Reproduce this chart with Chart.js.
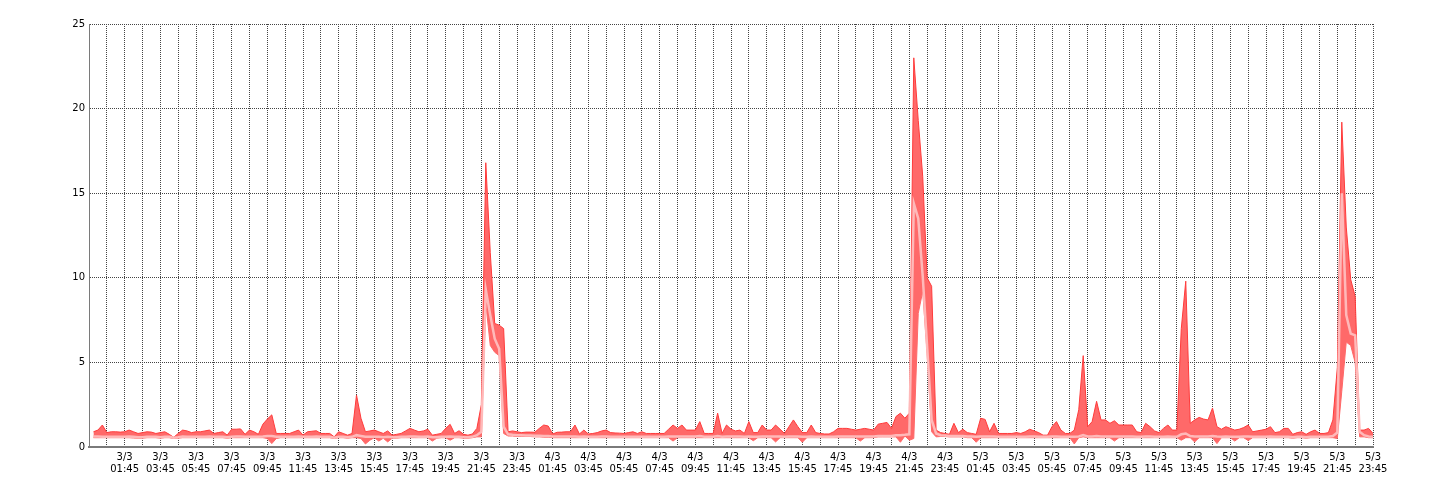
<!DOCTYPE html>
<html>
<head>
  <title>Load chart</title>
  <script src="https://cdn.jsdelivr.net/npm/chart.js"></script>
  <style>
    html, body {
      margin: 0;
      padding: 0;
      background: #ffffff;
    }
    #wrap {
      width: 1440px;
      height: 500px;
      position: relative;
    }
  </style>
</head>
<body>
  <div id="wrap">
    <canvas id="chartCanvas"></canvas>
  </div>

  <script>
    // samples every 15 minutes, hours counted from 3/3 00:00
    const sampleHours = Array.from({ length: 288 }, (_, i) => i / 4);

    const tickLabels = [
      ['3/3', '01:45'], ['3/3', '03:45'], ['3/3', '05:45'], ['3/3', '07:45'], ['3/3', '09:45'], ['3/3', '11:45'],
      ['3/3', '13:45'], ['3/3', '15:45'], ['3/3', '17:45'], ['3/3', '19:45'], ['3/3', '21:45'], ['3/3', '23:45'],
      ['4/3', '01:45'], ['4/3', '03:45'], ['4/3', '05:45'], ['4/3', '07:45'], ['4/3', '09:45'], ['4/3', '11:45'],
      ['4/3', '13:45'], ['4/3', '15:45'], ['4/3', '17:45'], ['4/3', '19:45'], ['4/3', '21:45'], ['4/3', '23:45'],
      ['5/3', '01:45'], ['5/3', '03:45'], ['5/3', '05:45'], ['5/3', '07:45'], ['5/3', '09:45'], ['5/3', '11:45'],
      ['5/3', '13:45'], ['5/3', '15:45'], ['5/3', '17:45'], ['5/3', '19:45'], ['5/3', '21:45'], ['5/3', '23:45']
    ];

    const maxValues = [
      0.9, 1.0, 1.3, 0.85, 0.9, 0.9, 0.88, 0.9, 1.0, 0.9, 0.8, 0.85, 0.9, 0.88, 0.8, 0.85,
      0.9, 0.75, 0.57, 0.8, 1.0, 0.95, 0.85, 0.9, 0.9, 0.95, 1.0, 0.8, 0.85, 0.9, 0.7, 1.05,
      1.05, 1.07, 0.75, 1.0, 0.9, 0.75, 1.35, 1.65, 1.9, 0.8, 0.8, 0.8, 0.8, 0.9, 1.0, 0.7,
      0.9, 0.93, 0.96, 0.8, 0.8, 0.8, 0.6, 0.9, 0.8, 0.7, 0.8, 3.07, 1.7, 0.9, 0.95, 1.0,
      0.9, 0.8, 0.95, 0.7, 0.75, 0.8, 0.95, 1.1, 1.0, 0.9, 0.95, 1.05, 0.7, 0.75, 0.8, 1.1,
      1.34, 0.8, 0.96, 0.75, 0.7, 0.77, 1.1, 2.5, 16.8, 11.5, 7.3, 7.2, 7.0, 0.9, 0.95, 0.9,
      0.85, 0.88, 0.88, 0.87, 1.1, 1.3, 1.24, 0.77, 0.87, 0.88, 0.9, 0.9, 1.3, 0.77, 1.0, 0.77,
      0.8, 0.85, 0.95, 1.0, 0.85, 0.83, 0.82, 0.8, 0.85, 0.9, 0.8, 0.9, 0.8, 0.8, 0.8, 0.8,
      0.8, 1.05, 1.3, 1.1, 1.3, 1.0, 1.0, 1.0, 1.5, 0.8, 0.8, 0.8, 2.0, 0.8, 1.3, 1.05,
      0.95, 1.0, 0.8, 1.5, 0.85, 0.85, 1.3, 1.0, 1.0, 1.3, 1.05, 0.8, 1.2, 1.6, 1.2, 0.85,
      0.85, 1.3, 0.85, 0.8, 0.77, 0.77, 0.9, 1.1, 1.1, 1.1, 1.05, 1.0, 1.05, 1.1, 1.05, 1.0,
      1.35, 1.4, 1.45, 1.1, 1.8, 2.0, 1.7, 2.0, 23.0, 19.3, 16.0, 10.0, 9.5, 1.0, 0.85, 0.8,
      0.75, 1.4, 0.85, 1.05, 0.85, 0.8, 0.75, 1.7, 1.63, 0.9, 1.4, 0.8, 0.8, 0.8, 0.8, 0.85,
      0.8, 0.9, 1.05, 0.95, 0.85, 0.7, 0.7, 1.2, 1.5, 1.0, 0.8, 0.8, 1.0, 2.2, 5.4, 1.2,
      1.5, 2.7, 1.6, 1.6, 1.4, 1.55, 1.3, 1.3, 1.3, 1.3, 0.9, 0.85, 1.4, 1.2, 0.95, 0.85,
      1.1, 1.3, 1.0, 1.0, 7.0, 9.8, 1.4, 1.6, 1.75, 1.65, 1.6, 2.3, 1.2, 1.05, 1.2, 1.1,
      1.0, 1.05, 1.15, 1.3, 0.9, 0.95, 1.0, 1.05, 1.2, 0.85, 0.9, 1.1, 1.1, 0.75, 0.85, 0.9,
      0.75, 0.9, 1.0, 0.8, 0.8, 0.85, 1.6, 4.7, 19.2, 13.0, 9.9, 8.9, 1.0, 1.0, 1.1, 0.8
    ];

    const avgValues = [
      0.62, 0.62, 0.6, 0.6, 0.6, 0.6, 0.6, 0.6, 0.62, 0.6, 0.58, 0.58, 0.6, 0.6, 0.6, 0.58,
      0.6, 0.6, 0.55, 0.58, 0.62, 0.6, 0.6, 0.6, 0.6, 0.6, 0.62, 0.6, 0.6, 0.6, 0.58, 0.6,
      0.62, 0.62, 0.6, 0.6, 0.6, 0.6, 0.62, 0.65, 0.65, 0.6, 0.6, 0.6, 0.6, 0.6, 0.62, 0.6,
      0.6, 0.6, 0.62, 0.6, 0.6, 0.6, 0.55, 0.6, 0.6, 0.58, 0.6, 0.7, 0.65, 0.6, 0.6, 0.6,
      0.6, 0.58, 0.6, 0.58, 0.58, 0.6, 0.6, 0.62, 0.62, 0.6, 0.6, 0.62, 0.58, 0.58, 0.6, 0.6,
      0.62, 0.6, 0.6, 0.58, 0.58, 0.6, 0.7, 0.9, 9.3, 7.8, 6.4, 5.8, 1.2, 0.75, 0.72, 0.7,
      0.7, 0.68, 0.68, 0.66, 0.66, 0.65, 0.65, 0.62, 0.62, 0.62, 0.62, 0.62, 0.62, 0.6, 0.62, 0.6,
      0.6, 0.6, 0.62, 0.62, 0.6, 0.6, 0.6, 0.6, 0.6, 0.6, 0.6, 0.6, 0.6, 0.6, 0.6, 0.6,
      0.6, 0.62, 0.62, 0.62, 0.62, 0.62, 0.62, 0.62, 0.65, 0.6, 0.6, 0.6, 0.65, 0.6, 0.62, 0.62,
      0.62, 0.62, 0.6, 0.62, 0.6, 0.6, 0.62, 0.62, 0.62, 0.62, 0.62, 0.6, 0.62, 0.62, 0.62, 0.6,
      0.6, 0.62, 0.6, 0.6, 0.6, 0.6, 0.6, 0.62, 0.62, 0.62, 0.62, 0.62, 0.62, 0.62, 0.62, 0.62,
      0.65, 0.65, 0.65, 0.65, 0.7, 0.7, 0.72, 0.75, 14.4, 13.5, 10.1, 5.9, 1.6, 0.8, 0.7, 0.68,
      0.65, 0.65, 0.65, 0.65, 0.62, 0.62, 0.6, 0.62, 0.62, 0.62, 0.62, 0.6, 0.6, 0.6, 0.6, 0.6,
      0.6, 0.6, 0.62, 0.62, 0.6, 0.6, 0.6, 0.62, 0.62, 0.6, 0.6, 0.6, 0.6, 0.62, 0.7, 0.62,
      0.62, 0.65, 0.62, 0.62, 0.62, 0.62, 0.62, 0.62, 0.62, 0.62, 0.6, 0.6, 0.62, 0.62, 0.6, 0.6,
      0.6, 0.62, 0.6, 0.6, 0.75, 0.8, 0.65, 0.62, 0.62, 0.62, 0.62, 0.65, 0.62, 0.6, 0.62, 0.6,
      0.6, 0.6, 0.62, 0.62, 0.6, 0.6, 0.6, 0.6, 0.62, 0.6, 0.6, 0.6, 0.6, 0.58, 0.6, 0.6,
      0.58, 0.6, 0.6, 0.6, 0.6, 0.6, 0.65, 0.85, 15.0, 7.8, 6.7, 6.6, 0.9, 0.7, 0.62, 0.6
    ];

    const minValues = [
      0.55, 0.55, 0.55, 0.55, 0.55, 0.55, 0.55, 0.55, 0.55, 0.53, 0.52, 0.52, 0.55, 0.55, 0.55, 0.52,
      0.55, 0.55, 0.5, 0.52, 0.55, 0.55, 0.55, 0.55, 0.55, 0.55, 0.55, 0.55, 0.55, 0.55, 0.52, 0.55,
      0.55, 0.55, 0.55, 0.55, 0.55, 0.55, 0.55, 0.5, 0.2, 0.5, 0.55, 0.55, 0.55, 0.55, 0.55, 0.55,
      0.55, 0.55, 0.55, 0.55, 0.55, 0.55, 0.5, 0.55, 0.55, 0.52, 0.55, 0.55, 0.5, 0.18, 0.4, 0.55,
      0.35, 0.52, 0.3, 0.52, 0.52, 0.55, 0.55, 0.55, 0.55, 0.55, 0.55, 0.55, 0.35, 0.52, 0.55, 0.55,
      0.4, 0.55, 0.55, 0.52, 0.52, 0.55, 0.6, 0.6, 8.5, 6.0, 5.6, 5.4, 0.8, 0.65, 0.65, 0.62,
      0.62, 0.62, 0.62, 0.6, 0.6, 0.58, 0.58, 0.55, 0.55, 0.55, 0.55, 0.55, 0.55, 0.55, 0.55, 0.55,
      0.55, 0.55, 0.55, 0.55, 0.55, 0.55, 0.55, 0.55, 0.55, 0.55, 0.55, 0.55, 0.55, 0.55, 0.55, 0.55,
      0.55, 0.55, 0.35, 0.55, 0.55, 0.55, 0.55, 0.55, 0.55, 0.55, 0.55, 0.55, 0.55, 0.55, 0.55, 0.55,
      0.55, 0.55, 0.55, 0.55, 0.37, 0.55, 0.55, 0.55, 0.55, 0.3, 0.55, 0.55, 0.55, 0.55, 0.55, 0.28,
      0.55, 0.55, 0.55, 0.55, 0.55, 0.55, 0.55, 0.55, 0.55, 0.55, 0.55, 0.55, 0.35, 0.55, 0.55, 0.55,
      0.6, 0.6, 0.6, 0.6, 0.6, 0.28, 0.65, 0.4, 0.5, 7.9, 9.2, 5.5, 0.9, 0.6, 0.62, 0.62,
      0.6, 0.6, 0.6, 0.6, 0.55, 0.55, 0.28, 0.55, 0.55, 0.55, 0.55, 0.55, 0.55, 0.55, 0.55, 0.55,
      0.55, 0.55, 0.55, 0.55, 0.55, 0.55, 0.55, 0.55, 0.55, 0.55, 0.55, 0.55, 0.18, 0.55, 0.6, 0.55,
      0.55, 0.55, 0.55, 0.55, 0.55, 0.35, 0.55, 0.55, 0.55, 0.55, 0.55, 0.55, 0.55, 0.55, 0.55, 0.55,
      0.55, 0.55, 0.55, 0.55, 0.4, 0.55, 0.55, 0.3, 0.55, 0.55, 0.55, 0.55, 0.2, 0.55, 0.55, 0.55,
      0.35, 0.55, 0.55, 0.38, 0.55, 0.55, 0.55, 0.55, 0.55, 0.55, 0.55, 0.55, 0.55, 0.52, 0.55, 0.55,
      0.52, 0.55, 0.55, 0.55, 0.55, 0.55, 0.55, 0.5, 3.3, 6.2, 6.0, 5.0, 0.6, 0.6, 0.55, 0.55
    ];

    const yTicks = [0, 5, 10, 15, 20, 25];

    document.addEventListener('DOMContentLoaded', function() {
      const ctx = document.getElementById('chartCanvas').getContext('2d');
      const tickFont = { family: 'DejaVu Sans', size: 10, lineHeight: 1.2 };

      new Chart(ctx, {
        type: 'line',
        data: {
          labels: sampleHours,
          datasets: [
            {
              label: 'avg',
              data: avgValues,
              borderColor: '#ffb9b9',
              borderWidth: 2.5,
              pointRadius: 0,
              fill: false,
              tension: 0
            },
            {
              label: 'max',
              data: maxValues,
              borderColor: '#ff3b3b',
              borderWidth: 1,
              backgroundColor: '#ff6969',
              pointRadius: 0,
              fill: 2,
              tension: 0
            },
            {
              label: 'min',
              data: minValues,
              borderColor: '#ff6969',
              borderWidth: 1,
              pointRadius: 0,
              fill: false,
              tension: 0
            }
          ]
        },
        options: {
          responsive: true,
          maintainAspectRatio: false,
          animation: false,
          layout: {
            padding: { top: 24, right: 67, bottom: 0, left: 0 }
          },
          plugins: {
            legend: { display: false },
            tooltip: { enabled: false }
          },
          scales: {
            x: {
              type: 'linear',
              min: -0.25,
              max: 71.75,
              afterBuildTicks: function(scale) {
                const ticks = [];
                for (let h = -0.25; h <= 71.75; h += 1) {
                  ticks.push({ value: h });
                }
                scale.ticks = ticks;
              },
              afterFit: function(scale) {
                scale.height = 53;
              },
              grid: { color: '#444444', lineWidth: 1, drawTicks: false },
              // in v4 border.dash is the dash of the grid lines, the axis line stays solid
              border: { display: true, color: '#7a7a7a', width: 2, dash: [1, 1] },
              ticks: {
                autoSkip: false,
                maxRotation: 0,
                minRotation: 0,
                padding: 4,
                color: '#000000',
                font: tickFont,
                callback: function(value) {
                  const k = (value - 1.75) / 2;
                  if (Number.isInteger(k) && k >= 0 && k < tickLabels.length) {
                    return tickLabels[k];
                  }
                  return '';
                }
              }
            },
            y: {
              min: 0,
              max: 25,
              afterBuildTicks: function(scale) {
                scale.ticks = yTicks.map(v => ({ value: v }));
              },
              afterFit: function(scale) {
                scale.width = 89;
              },
              grid: { color: '#444444', lineWidth: 1, drawTicks: false },
              border: { display: true, color: '#7a7a7a', width: 1, dash: [1, 1] },
              ticks: {
                padding: 4,
                color: '#000000',
                font: tickFont
              }
            }
          }
        }
      });
    });
  </script>
</body>
</html>
